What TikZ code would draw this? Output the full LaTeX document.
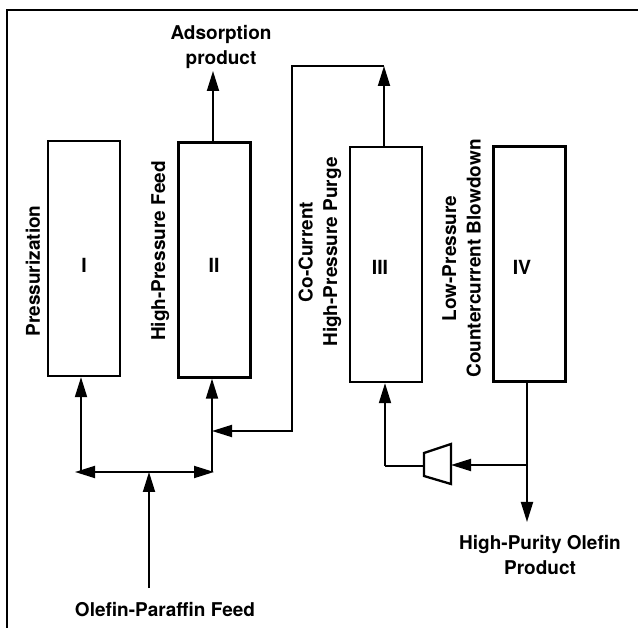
\documentclass[tikz,border=0pt]{standalone}
\usepackage{fontspec}
\setmainfont{TeX Gyre Heros}
\usetikzlibrary{arrows.meta}
\begin{document}
\begin{tikzpicture}[x=1pt,y=-1pt,
  box/.style={draw, line width=2.3pt, minimum width=72pt, minimum height=235pt, inner sep=0pt},
  con/.style={line width=1.8pt},
  arr/.style={con, -{Triangle[length=20pt,width=12pt]}},
  lbl/.style={font=\bfseries\fontsize{19}{24.5}\selectfont, align=center, inner sep=0pt},
  num/.style={font=\bfseries\fontsize{19.5}{24}\selectfont, inner sep=0pt}]
\useasboundingbox (0,0) rectangle (638,628);
\draw[line width=1.3pt] (7,628) -- (7,10) -- (638,10);
% columns
\node[box] (b1) at (84,258.5) {};
\node[box] (b2) at (214.5,260) {};
\node[box] (b3) at (386,264.5) {};
\node[box] (b4) at (529.5,264) {};
\node[num] (n1) at (84,265) {I};
\node[num] (n2) at (214,265.5) {II};
\node[num] (n3) at (380,267) {III};
\node[num] (n4) at (522,267) {IV};
% step labels
\node[lbl, rotate=90] (t1) at (33,271) {Pressurization};
\node[lbl, rotate=90] (t2) at (160,251) {High-Pressure Feed};
\node[lbl, rotate=90] (t3) at (320,252) {Co-Current\\High-Pressure Purge};
\node[lbl, rotate=90] (t4) at (461.5,258.5) {Low-Pressure\\Countercurrent Blowdown};
% adsorption product
\node[lbl] (ads) at (221,47) {Adsorption\\product};
\coordinate (a1) at (213,71);
\draw[arr] (a1 |- b2.north) -- (a1);
% purge loop
\coordinate (p0) at (384,66);
\coordinate (p1) at (292,66);
\coordinate (p2) at (292,431);
\coordinate (p3) at (212,431);
\draw[arr] (p0 |- b3.north) -- (p0);
\draw[arr] (p0) -- (p1) -- (p2) -- (p3);
% feed
\coordinate (f0) at (149,588);
\coordinate (f1) at (149,472);
\coordinate (fl) at (75,472);
\coordinate (fr) at (214,472);
\coordinate (l1) at (81,472);
\coordinate (r1) at (212,472);
\draw[arr] (f0) -- (f1);
\draw[arr] (f1) -- (fl);
\draw[arr] (f1) -- (fr);
\draw[arr] (l1) -- (l1 |- b1.south);
\draw[arr] (r1) -- (r1 |- b2.south);
\node[lbl] (feed) at (165,610) {Olefin-Paraffin Feed};
% blowdown / product
\coordinate (j4) at (527,465);
\coordinate (pr) at (527,522);
\draw[con] (j4 |- b4.south) -- (j4);
\draw[arr] (j4) -- (pr);
\node[lbl] (prod) at (540,555) {High-Purity Olefin\\Product};
% compressor
\coordinate (cLt) at (424,453);
\coordinate (cLb) at (424,476);
\coordinate (cRt) at (451,444);
\coordinate (cRb) at (451,484);
\coordinate (cR) at (451,465);
\coordinate (cL) at (424,466);
\draw[line width=2.3pt, line join=miter] (cLt) -- (cRt) -- (cRb) -- (cLb) -- cycle;
\draw[arr] (j4) -- (cR);
\coordinate (r3) at (385,466);
\draw[con] (cL) -- (r3);
\draw[arr] (r3) -- (r3 |- b3.south);
\end{tikzpicture}
\end{document}
